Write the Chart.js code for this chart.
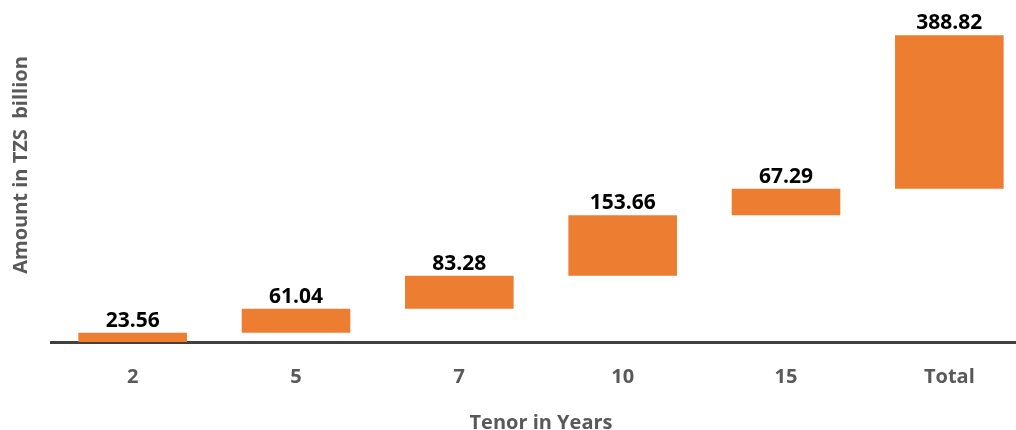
<!DOCTYPE html>
<html>
<head>
<meta charset="utf-8">
<script src="https://cdn.jsdelivr.net/npm/chart.js@4/dist/chart.umd.min.js"></script>
<style>
  html, body { margin: 0; padding: 0; background: #fff; overflow: hidden; }
  #wrap { width: 1031px; height: 430px; }
</style>
</head>
<body>
<div id="wrap"><canvas id="waterfall"></canvas></div>
<script>
const tenors = ['2', '5', '7', '10', '15', 'Total'];
const amounts = [23.56, 61.04, 83.28, 153.66, 67.29];
const total = 388.82;
const yMin = 0;
const yMax = 842;

// floating bars: each one starts where the previous ended
let running = 0;
const ranges = amounts.map(a => {
    const r = [running, running + a];
    running += a;
    return r;
});
ranges.push([running, running + total]);
const labels = amounts.concat([total]);

const barLabels = {
    id: 'barLabels',
    afterDatasetsDraw(chart){
        const ctx = chart.ctx;
        const meta = chart.getDatasetMeta(0);
        ctx.save();
        ctx.font = 'bold 21px "Open Sans"';
        ctx.fillStyle = '#000';
        ctx.textAlign = 'center';
        ctx.textBaseline = 'alphabetic';
        meta.data.forEach((bar, i) => {
            ctx.fillText(labels[i].toFixed(2), bar.x, bar.y - 6);
        });
        ctx.restore();
    }
};

const yTitle = {
    id: 'yTitle',
    afterDraw(chart){
        const ctx = chart.ctx;
        ctx.save();
        ctx.translate(21, 165);
        ctx.rotate(-Math.PI / 2);
        ctx.font = 'bold 20px "Open Sans"';
        ctx.fillStyle = '#595959';
        ctx.textAlign = 'center';
        ctx.textBaseline = 'middle';
        ctx.fillText('Amount in TZS  billion', 0, 0);
        ctx.restore();
    }
};

new Chart(document.getElementById('waterfall'), {
    type: 'bar',
    data: {
        labels: tenors,
        datasets: [{
            data: ranges,
            backgroundColor: '#ED7D31',
            borderWidth: 0,
            categoryPercentage: 1,
            barPercentage: 0.665
        }]
    },
    options: {
        responsive: true,
        maintainAspectRatio: false,
        animation: false,
        layout: { padding: { left: 51, top: 10, right: 0, bottom: 0 } },
        plugins: {
            legend: { display: false },
            tooltip: { enabled: false }
        },
        scales: {
            y: {
                display: false,
                min: yMin,
                max: yMax
            },
            x: {
                grid: { display: false },
                border: { color: '#404040', width: 3 },
                ticks: {
                    color: '#595959',
                    font: { family: 'Open Sans', size: 20, weight: 'bold', lineHeight: 1.2 },
                    padding: 15
                },
                title: {
                    display: true,
                    text: 'Tenor in Years',
                    color: '#595959',
                    font: { family: 'Open Sans', size: 20, weight: 'bold', lineHeight: 1 },
                    padding: { top: 9, bottom: -3 }
                }
            }
        }
    },
    plugins: [barLabels, yTitle]
});
</script>
</body>
</html>
